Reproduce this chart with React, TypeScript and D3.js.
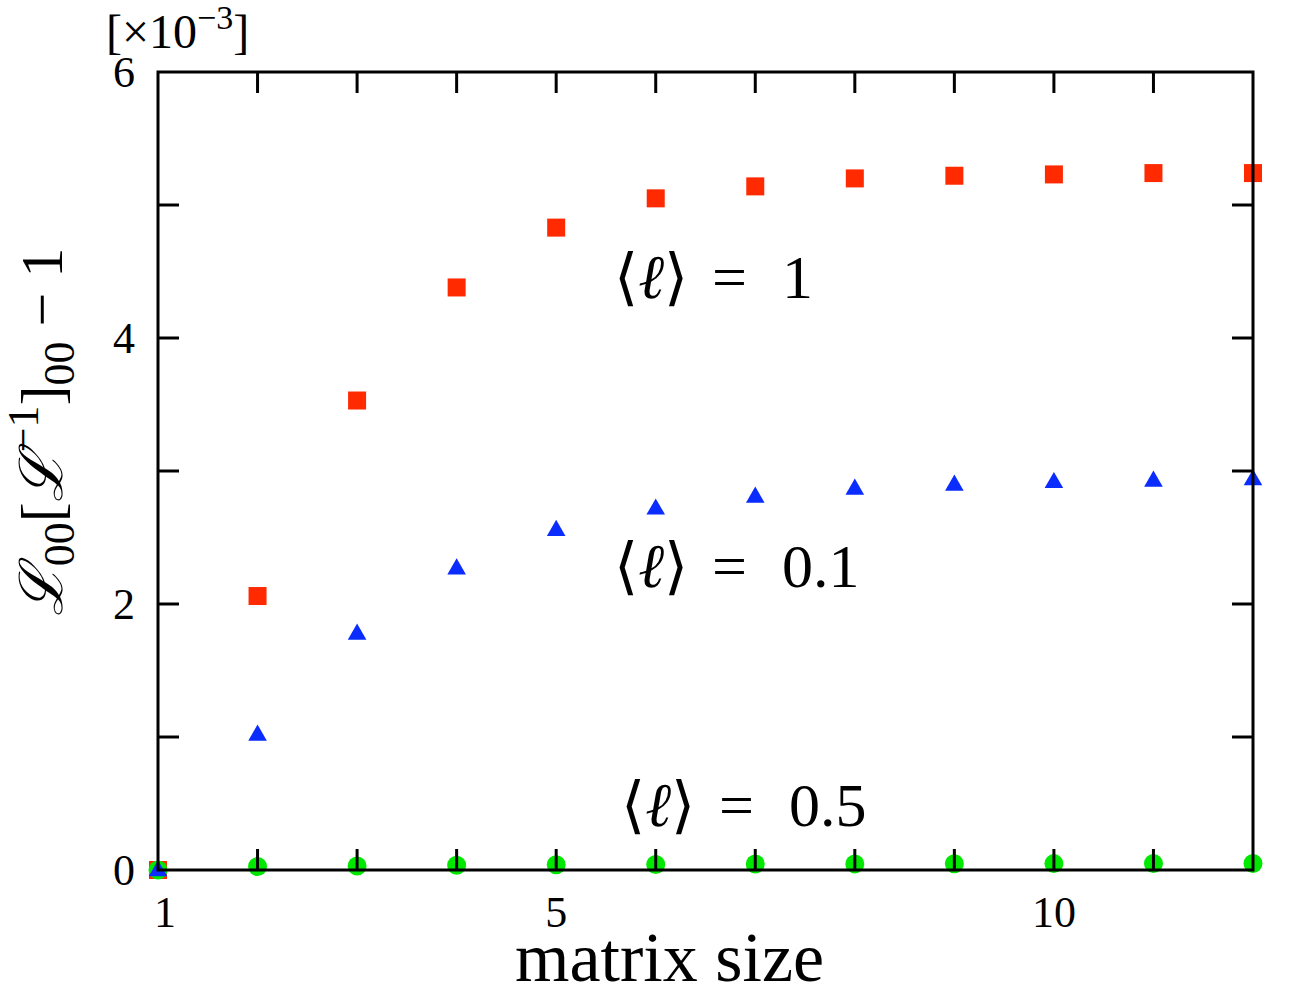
import React from "react";
import * as d3 from "d3";

// matrix size (x) and the three series, values in units of 1e-3
const sizes = [1, 2, 3, 4, 5, 6, 7, 8, 9, 10, 11, 12];
const meanOne = [0, 2.06, 3.53, 4.38, 4.83, 5.05, 5.14, 5.2, 5.22, 5.23, 5.24, 5.24];
const meanTenth = [0, 1.02, 1.78, 2.27, 2.56, 2.72, 2.81, 2.87, 2.9, 2.92, 2.93, 2.94];
const meanHalf = [0, 0.026, 0.03, 0.036, 0.04, 0.042, 0.045, 0.046, 0.047, 0.048, 0.049, 0.049];

const xTickLabels = [1, 5, 10];
const yTickLabels = [0, 2, 4, 6];

const annotations = [
  { value: "1", y: 298, x: 614 },
  { value: "0.1", y: 587, x: 614 },
  { value: "0.5", y: 826, x: 621 },
];

const width = 1314;
const height = 984;
const margin = { top: 72, right: 61, bottom: 114, left: 158 };
const font = "'Liberation Serif', 'DejaVu Serif', serif";

export default function App() {
  const x = d3
    .scaleLinear()
    .domain([1, 12])
    .range([margin.left, width - margin.right]);
  const y = d3
    .scaleLinear()
    .domain([0, 6])
    .range([height - margin.bottom, margin.top]);

  const [x0, x1] = x.range();
  const [y0, y1] = y.range();
  const tickLen = 21;
  const sq = 18;
  const tri = d3.symbol(d3.symbolTriangle, 150)();

  return (
    <svg
      width={width}
      height={height}
      style={{ position: "absolute", left: 0, top: 0, background: "#fff" }}
      fontFamily={font}
    >
      {/* red squares: <l> = 1 */}
      {sizes.map((s, i) => (
        <rect
          key={"r" + s}
          x={x(s) - sq / 2}
          y={y(meanOne[i]) - sq / 2}
          width={sq}
          height={sq}
          fill="#ff2a00"
        />
      ))}
      {/* green circles: <l> = 0.5 */}
      {sizes.map((s, i) => (
        <circle key={"g" + s} cx={x(s)} cy={y(meanHalf[i])} r={9.5} fill="#00e800" />
      ))}
      {/* blue triangles: <l> = 0.1 */}
      {sizes.map((s, i) => (
        <path
          key={"b" + s}
          d={tri}
          transform={`translate(${x(s)},${y(meanTenth[i]) + 1})`}
          fill="#0a2cff"
        />
      ))}

      {/* ticks on all four sides */}
      <g stroke="#000" strokeWidth={3}>
        {d3.range(2, 12).map((t) => (
          <g key={"xt" + t}>
            <line x1={x(t)} x2={x(t)} y1={y0} y2={y0 - tickLen} />
            <line x1={x(t)} x2={x(t)} y1={y1} y2={y1 + tickLen} />
          </g>
        ))}
        {d3.range(1, 6).map((t) => (
          <g key={"yt" + t}>
            <line x1={x0} x2={x0 + tickLen} y1={y(t)} y2={y(t)} />
            <line x1={x1} x2={x1 - tickLen} y1={y(t)} y2={y(t)} />
          </g>
        ))}
      </g>
      <rect
        x={x0}
        y={y1}
        width={x1 - x0}
        height={y0 - y1}
        fill="none"
        stroke="#000"
        strokeWidth={3}
      />

      {/* tick labels */}
      <g fontSize={44} fill="#000">
        {xTickLabels.map((t) => (
          <text key={"xl" + t} x={x(t) + (t === 1 ? 7 : 0)} y={y0 + 57} textAnchor="middle">
            {t}
          </text>
        ))}
        {yTickLabels.map((t) => (
          <text key={"yl" + t} x={x0 - 23} y={y(t) + 15} textAnchor="end">
            {t}
          </text>
        ))}
      </g>

      {/* scale factor */}
      <text x={106} y={48} fontSize={48}>
        [×10
        <tspan fontSize={34} dy={-19}>−3</tspan>
        <tspan dy={19}>]</tspan>
      </text>

      {/* axis titles */}
      <text x={(x0 + x1) / 2 - 36} y={981} fontSize={70} textAnchor="middle">
        matrix size
      </text>
      <text
        transform={`translate(62,432) rotate(-90)`}
        fontSize={60}
        textAnchor="middle"
      >
        <tspan fontStyle="italic">ℒ</tspan>
        <tspan fontSize={44} dy={12}>00</tspan>
        <tspan dy={-12}>[</tspan>
        <tspan fontStyle="italic">ℒ</tspan>
        <tspan fontSize={44} dy={-24}>−1</tspan>
        <tspan dy={24}>]</tspan>
        <tspan fontSize={44} dy={12}>00</tspan>
        <tspan dy={-12}> − 1</tspan>
      </text>

      {/* series annotations */}
      <g fontSize={62} fill="#000">
        {annotations.map((a) => (
          <text key={a.value} y={a.y}>
            <tspan x={a.x}>⟨</tspan>
            <tspan fontStyle="italic">ℓ</tspan>
            <tspan>⟩</tspan>
            <tspan x={a.x + 98}>=</tspan>
            <tspan x={a.x + 168}>{a.value}</tspan>
          </text>
        ))}
      </g>
    </svg>
  );
}
